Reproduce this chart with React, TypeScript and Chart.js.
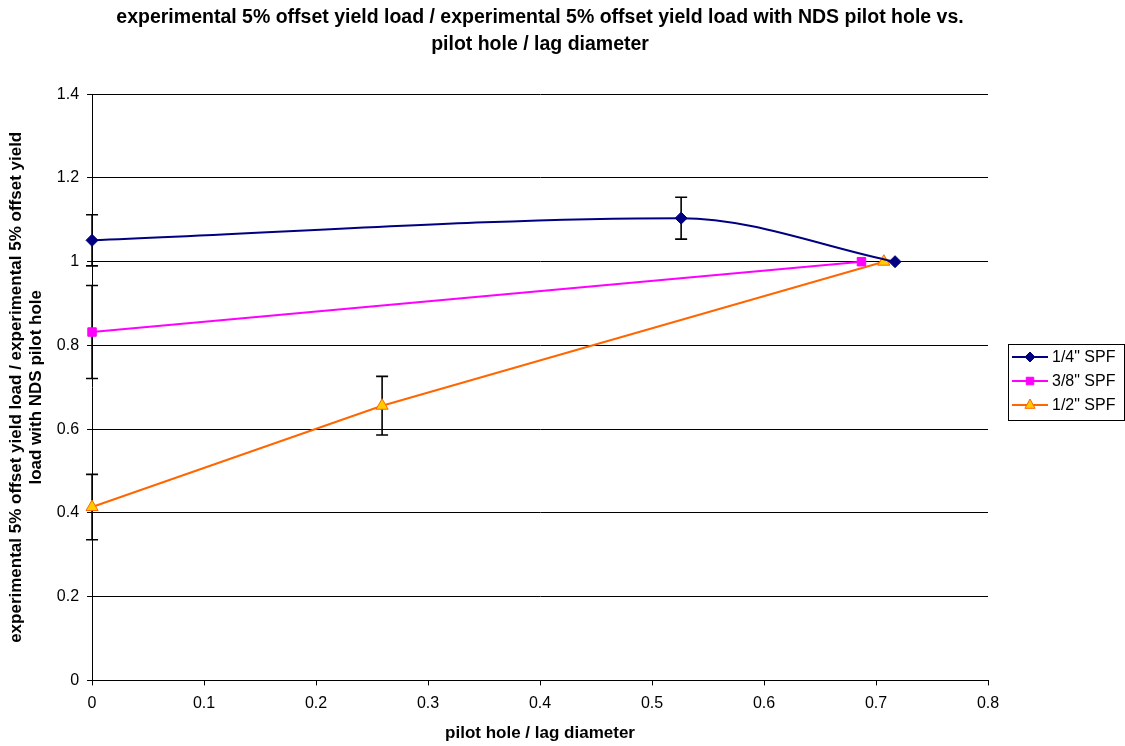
import React, { useEffect, useRef } from "react";
import { Chart, registerables } from "chart.js";

Chart.register(...registerables);

const FONT = "'Liberation Sans', Arial, sans-serif";

const titleLines = [
  "experimental 5% offset yield load / experimental 5% offset yield load with NDS pilot hole vs.",
  "pilot hole / lag diameter",
];
const xTitle = "pilot hole / lag diameter";
const yTitleLines = [
  "experimental 5% offset yield load / experimental 5% offset yield",
  "load with NDS pilot hole",
];

const seriesNames = ['1/4" SPF', '3/8" SPF', '1/2" SPF'];

const quarterX = [0, 0.526, 0.717];
const quarterY = [1.051, 1.104, 1.0];
const quarterErr = [0.061, 0.05, 0];

const threeEighthX = [0, 0.687];
const threeEighthY = [0.832, 1.0];
const threeEighthErr = [0.111, 0];

const halfX = [0, 0.259, 0.707];
const halfY = [0.414, 0.656, 1.0];
const halfErr = [0.078, 0.07, 0];

const lineColors = ["#000080", "#FF00FF", "#FF6600"];
const fillColors = ["#000080", "#FF00FF", "#FFCC00"];
const markerStyles = ["rectRot", "rect", "triangle"];
const markerRadius = [6, 6, 7];

const errs = [quarterErr, threeEighthErr, halfErr];

function toPts(xs: number[], ys: number[]) {
  return xs.map((x, i) => ({ x, y: ys[i] }));
}

function drawMarker(ctx: CanvasRenderingContext2D, style: string, x: number, y: number, r: number) {
  ctx.beginPath();
  if (style === "rectRot") {
    ctx.moveTo(x, y - r);
    ctx.lineTo(x + r, y);
    ctx.lineTo(x, y + r);
    ctx.lineTo(x - r, y);
  } else if (style === "rect") {
    const s = r * 0.75;
    ctx.rect(x - s, y - s, 2 * s, 2 * s);
  } else {
    ctx.moveTo(x, y - r);
    ctx.lineTo(x + r * 0.85, y + r * 0.55);
    ctx.lineTo(x - r * 0.85, y + r * 0.55);
  }
  ctx.closePath();
  ctx.fill();
  ctx.stroke();
}

const errorBarPlugin = {
  id: "errorBars",
  beforeDatasetsDraw(chart: any) {
    const ctx = chart.ctx;
    const xs = chart.scales.x;
    const ys = chart.scales.y;
    ctx.save();
    ctx.strokeStyle = "#000000";
    ctx.lineWidth = 1.6;
    chart.data.datasets.forEach((ds: any, di: number) => {
      const e = errs[di];
      ds.data.forEach((p: any, i: number) => {
        const err = e[i];
        if (!err) return;
        const px = xs.getPixelForValue(p.x);
        const top = ys.getPixelForValue(p.y + err);
        const bot = ys.getPixelForValue(p.y - err);
        ctx.beginPath();
        ctx.moveTo(px, top);
        ctx.lineTo(px, bot);
        ctx.moveTo(px - 6, top);
        ctx.lineTo(px + 6, top);
        ctx.moveTo(px - 6, bot);
        ctx.lineTo(px + 6, bot);
        ctx.stroke();
      });
    });
    ctx.restore();
  },
};

const legendPlugin = {
  id: "boxLegend",
  afterDraw(chart: any) {
    const ctx = chart.ctx;
    const left = 1008;
    const top = 344;
    const w = 116;
    const h = 76;
    ctx.save();
    ctx.fillStyle = "#ffffff";
    ctx.fillRect(left, top, w, h);
    ctx.strokeStyle = "#000000";
    ctx.lineWidth = 1;
    ctx.strokeRect(left + 0.5, top + 0.5, w, h);
    ctx.font = `16px ${FONT}`;
    ctx.textBaseline = "middle";
    seriesNames.forEach((name, i) => {
      const cy = top + 13 + i * 24;
      ctx.strokeStyle = lineColors[i];
      ctx.lineWidth = 2;
      ctx.beginPath();
      ctx.moveTo(left + 4, cy);
      ctx.lineTo(left + 40, cy);
      ctx.stroke();
      ctx.fillStyle = fillColors[i];
      ctx.strokeStyle = lineColors[i];
      ctx.lineWidth = 1;
      drawMarker(ctx, markerStyles[i], left + 22, cy, markerRadius[i] - 1);
      ctx.fillStyle = "#000000";
      ctx.fillText(name, left + 44, cy + 1);
    });
    ctx.restore();
  },
};

export default function App() {
  const ref = useRef<HTMLCanvasElement>(null);
  useEffect(() => {
    if (!ref.current) return;
    const seriesData = [
      toPts(quarterX, quarterY),
      toPts(threeEighthX, threeEighthY),
      toPts(halfX, halfY),
    ];
    const chart = new Chart(ref.current, {
      type: "scatter",
      data: {
        datasets: seriesData.map((d, i) => ({
          label: seriesNames[i],
          data: d,
          showLine: true,
          clip: false,
          borderColor: lineColors[i],
          backgroundColor: fillColors[i],
          borderWidth: 2,
          pointStyle: markerStyles[i] as any,
          pointRadius: markerRadius[i],
          pointBorderColor: lineColors[i],
          pointBackgroundColor: fillColors[i],
          pointBorderWidth: 1,
          cubicInterpolationMode: i === 0 ? "monotone" : "default",
          tension: 0,
        })),
      },
      options: {
        animation: false,
        responsive: false,
        devicePixelRatio: 1,
        layout: { padding: { left: 6, right: 137, top: 4, bottom: 2 } },
        plugins: {
          legend: { display: false },
          tooltip: { enabled: false },
          title: {
            display: true,
            fullSize: false,
            text: titleLines,
            color: "#000000",
            font: { family: FONT, size: 19.5, weight: "bold", lineHeight: 1.39 },
            padding: { top: 0, bottom: 36 },
          },
        },
        scales: {
          x: {
            type: "linear",
            min: 0,
            max: 0.8,
            ticks: {
              stepSize: 0.1,
              color: "#000000",
              font: { family: FONT, size: 16 },
              padding: 9,
              callback: (v: any) => String(Math.round(Number(v) * 10) / 10),
            },
            grid: {
              drawOnChartArea: false,
              drawTicks: true,
              tickLength: 5,
              color: "#000000",
            },
            border: { color: "#000000", width: 1 },
            title: {
              display: true,
              text: xTitle,
              color: "#000000",
              font: { family: FONT, size: 17, weight: "bold" },
              padding: { top: 1, bottom: 0 },
            },
          },
          y: {
            type: "linear",
            min: 0,
            max: 1.4,
            ticks: {
              stepSize: 0.2,
              color: "#000000",
              font: { family: FONT, size: 16 },
              padding: 8,
              callback: (v: any) => String(Math.round(Number(v) * 10) / 10),
            },
            grid: {
              drawOnChartArea: true,
              drawTicks: true,
              tickLength: 5,
              color: "#000000",
              lineWidth: 1,
            },
            border: { color: "#000000", width: 1 },
            title: {
              display: true,
              text: yTitleLines,
              color: "#000000",
              font: { family: FONT, size: 17, weight: "bold", lineHeight: 1.2 },
              padding: { top: 0, bottom: 2 },
            },
          },
        },
      },
      plugins: [errorBarPlugin, legendPlugin],
    } as any);
    return () => chart.destroy();
  }, []);
  return (
    <div style={{ position: "fixed", left: 0, top: 0, width: 1125, height: 746, background: "#fff" }}>
      <canvas ref={ref} width={1125} height={746} style={{ width: 1125, height: 746 }} />
    </div>
  );
}
